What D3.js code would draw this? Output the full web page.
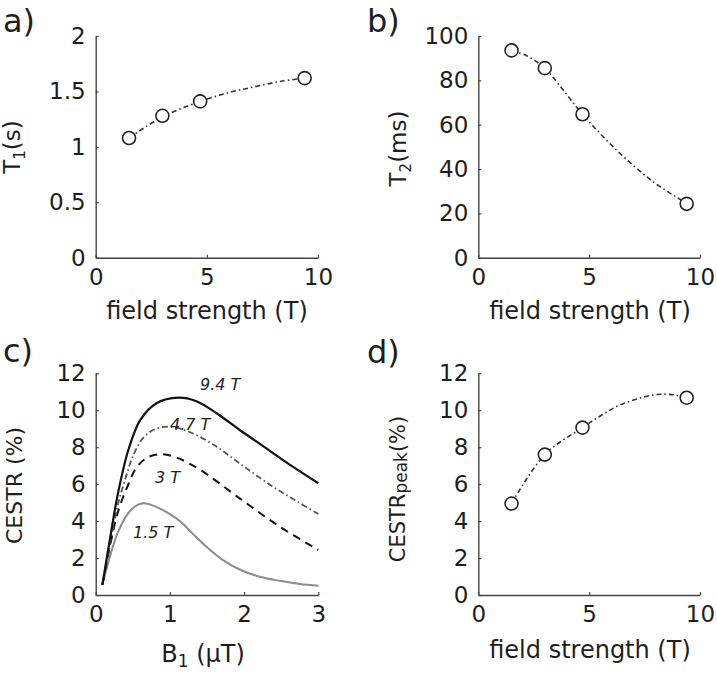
<!DOCTYPE html>
<html><head><meta charset="utf-8">
<script src="https://cdn.jsdelivr.net/npm/d3@7"></script>
<style>body{margin:0;background:#fff}</style>
</head><body><svg id="chart" width="717" height="673"></svg>
<script>
// ---- data ----
const fieldStrength = [1.5, 3, 4.7, 9.4];
const t1Values = [1.08, 1.28, 1.41, 1.62];
const t2Values = [93.5, 85.5, 64.7, 24.3];
const cestrPeakValues = [4.95, 7.6, 9.06, 10.68];

const t1FitX = [1.5, 3, 4.7, 6, 7.1, 8.3, 9.4];
const t1FitY = [1.08, 1.27, 1.41, 1.49, 1.54, 1.59, 1.62];
const t2FitX = [1.5, 2.2, 3, 3.83, 4.7, 6.23, 7.88, 9.4];
const t2FitY = [93.5, 91.0, 85.5, 75.6, 64.7, 48.6, 34.3, 24.5];
const peakFitX = [1.5, 3, 4.7, 5.5, 6.4, 7.9, 8.8, 9.4];
const peakFitY = [4.95, 7.6, 9.06, 9.69, 10.29, 10.83, 10.84, 10.68];

const b1_94 = [0.09, 0.19, 0.30, 0.44, 0.60, 0.82, 1.11, 1.35, 1.63, 1.94, 2.17, 2.62, 3.0];
const cestr_94 = [0.55, 2.98, 5.5, 7.85, 9.47, 10.38, 10.68, 10.5, 9.84, 8.93, 8.3, 7.04, 6.05];
const b1_47 = [0.09, 0.2, 0.3, 0.4, 0.51, 0.64, 0.8, 1.0, 1.25, 1.6, 2.0, 2.39, 2.7, 3.0];
const cestr_47 = [0.55, 2.9, 4.9, 6.3, 7.6, 8.5, 8.98, 9.11, 8.85, 8.1, 6.95, 5.86, 5.1, 4.38];
const b1_3 = [0.09, 0.2, 0.3, 0.42, 0.55, 0.7, 0.89, 1.1, 1.41, 1.94, 2.48, 3.0];
const cestr_3 = [0.55, 2.8, 4.5, 5.8, 6.9, 7.45, 7.62, 7.42, 6.77, 5.23, 3.7, 2.44];
const b1_15 = [0.09, 0.2, 0.3, 0.4, 0.5, 0.64, 0.8, 1.0, 1.15, 1.3, 1.5, 1.7, 1.94, 2.2, 2.48, 2.75, 3.0];
const cestr_15 = [0.55, 2.2, 3.4, 4.2, 4.7, 4.96, 4.8, 4.38, 3.95, 3.35, 2.58, 1.93, 1.38, 1.0, 0.77, 0.6, 0.5];

const curveLabels = ["9.4 T", "4.7 T", "3 T", "1.5 T"];
const fieldTicks = [0, 5, 10];
const t1Ticks = [0, 0.5, 1, 1.5, 2];
const t2Ticks = [0, 20, 40, 60, 80, 100];
const b1Ticks = [0, 1, 2, 3];
const cestrTicks = [0, 2, 4, 6, 8, 10, 12];

// ---- drawing ----
const svg = d3.select("#chart");
svg.append("rect").attr("width", 717).attr("height", 673).attr("fill", "#fff");
const FONT = "DejaVu Sans, Verdana, sans-serif";
const TXT = "#1e1e1e";
const AX = "#444";
const smooth = d3.curveCatmullRom.alpha(0.5);

function makePanel(cfg) {
  const x = d3.scaleLinear().domain(cfg.xDomain).range(cfg.xRange);
  const y = d3.scaleLinear().domain(cfg.yDomain).range(cfg.yRange);
  const gx = svg.append("g").attr("transform", `translate(0,${cfg.yRange[0]})`)
    .call(d3.axisBottom(x).tickValues(cfg.xTicks).tickFormat(d3.format("~g"))
      .tickSizeInner(-3).tickSizeOuter(0).tickPadding(11));
  const gy = svg.append("g").attr("transform", `translate(${cfg.xRange[0]},0)`)
    .call(d3.axisLeft(y).tickValues(cfg.yTicks).tickFormat(d3.format("~g"))
      .tickSizeInner(-3).tickSizeOuter(0).tickPadding(10));
  [gx, gy].forEach(g => {
    g.attr("font-family", FONT).attr("font-size", 23);
    g.select(".domain").attr("stroke", AX).attr("stroke-width", 1.4);
    g.selectAll(".tick line").attr("stroke", AX).attr("stroke-width", 1.2);
    g.selectAll(".tick text").attr("fill", TXT);
  });
  svg.append("text").attr("x", cfg.letterX).attr("y", cfg.letterY)
    .attr("font-family", FONT).attr("font-size", 32).attr("fill", TXT).text(cfg.letter);
  return {x, y};
}

function xLabel(cx, by, build) {
  const t = svg.append("text").attr("x", cx).attr("y", by).attr("text-anchor", "middle")
    .attr("font-family", FONT).attr("font-size", 24).attr("fill", TXT);
  build(t);
}
function yLabel(bx, cy, build, size) {
  const t = svg.append("text").attr("transform", `translate(${bx},${cy}) rotate(-90)`)
    .attr("text-anchor", "middle").attr("font-family", FONT).attr("font-size", size || 23).attr("fill", TXT);
  build(t);
}

function fitLine(p, xs, ys) {
  const line = d3.line().x((d, i) => p.x(xs[i])).y((d, i) => p.y(ys[i])).curve(smooth);
  svg.append("path").attr("d", line(xs)).attr("fill", "none").attr("stroke", "#333")
    .attr("stroke-width", 1.6).attr("stroke-dasharray", "5,3,1.5,3");
}
function markers(p, xs, ys) {
  svg.append("g").selectAll("circle").data(xs).join("circle")
    .attr("cx", d => p.x(d)).attr("cy", (d, i) => p.y(ys[i])).attr("r", 6.5)
    .attr("fill", "#fff").attr("stroke", "#222").attr("stroke-width", 1.6);
}

// Panel a
const pa = makePanel({xDomain: [0, 10], yDomain: [0, 2], xRange: [95.7, 318], yRange: [257.7, 36],
  xTicks: fieldTicks, yTicks: t1Ticks, letter: "a)", letterX: 3, letterY: 32});
fitLine(pa, t1FitX, t1FitY);
markers(pa, fieldStrength, t1Values);
xLabel(207, 319, t => t.text("field strength (T)"));
yLabel(20, 147, t => { t.append("tspan").text("T");
  t.append("tspan").attr("font-size", 15).attr("dy", 5).text("1");
  t.append("tspan").attr("dy", -5).text("(s)"); });

// Panel b
const pb = makePanel({xDomain: [0, 10], yDomain: [0, 100], xRange: [478.3, 700], yRange: [257.7, 36],
  xTicks: fieldTicks, yTicks: t2Ticks, letter: "b)", letterX: 367, letterY: 32});
fitLine(pb, t2FitX, t2FitY);
markers(pb, fieldStrength, t2Values);
xLabel(590, 319, t => t.text("field strength (T)"));
yLabel(406, 148.5, t => { t.append("tspan").text("T");
  t.append("tspan").attr("font-size", 15).attr("dy", 5).text("2");
  t.append("tspan").attr("dy", -5).text("(ms)"); });

// Panel c
const pc = makePanel({xDomain: [0, 3], yDomain: [0, 12], xRange: [95.7, 318.3], yRange: [595, 373.3],
  xTicks: b1Ticks, yTicks: cestrTicks, letter: "c)", letterX: 3, letterY: 362});
const cSeries = [
  {xs: b1_94, ys: cestr_94, stroke: "#111", w: 2.2, dash: null},
  {xs: b1_47, ys: cestr_47, stroke: "#555", w: 1.8, dash: "6,3,1.5,3"},
  {xs: b1_3, ys: cestr_3, stroke: "#111", w: 2.0, dash: "8,6"},
  {xs: b1_15, ys: cestr_15, stroke: "#8c8c8c", w: 2.0, dash: null}
];
cSeries.slice().reverse().forEach(s => {
  const line = d3.line().x((d, i) => pc.x(s.xs[i])).y((d, i) => pc.y(s.ys[i])).curve(smooth);
  svg.append("path").attr("d", line(s.xs)).attr("fill", "none").attr("stroke", s.stroke)
    .attr("stroke-width", s.w).attr("stroke-dasharray", s.dash);
});
const labelPos = [[200, 390], [170, 430], [155, 483], [133, 538]];
curveLabels.forEach((lab, i) => {
  svg.append("text").attr("x", labelPos[i][0]).attr("y", labelPos[i][1])
    .attr("font-family", FONT).attr("font-size", 16).attr("font-style", "italic")
    .attr("fill", "#222").text(lab);
});
xLabel(203, 662, t => { t.append("tspan").text("B");
  t.append("tspan").attr("font-size", 17).attr("dy", 5).text("1");
  t.append("tspan").attr("dy", -5).text(" (\u03BCT)"); });
yLabel(22, 485.5, t => t.text("CESTR (%)"), 22);

// Panel d
const pd = makePanel({xDomain: [0, 10], yDomain: [0, 12], xRange: [478.3, 700], yRange: [595, 373.3],
  xTicks: fieldTicks, yTicks: cestrTicks, letter: "d)", letterX: 367, letterY: 363});
fitLine(pd, peakFitX, peakFitY);
markers(pd, fieldStrength, cestrPeakValues);
xLabel(590, 658, t => t.text("field strength (T)"));
yLabel(405, 489, t => { t.append("tspan").text("CESTR");
  t.append("tspan").attr("font-size", 17).attr("dy", 2).text("peak");
  t.append("tspan").attr("dy", -2).text("(%)"); }, 21);
</script></body></html>
